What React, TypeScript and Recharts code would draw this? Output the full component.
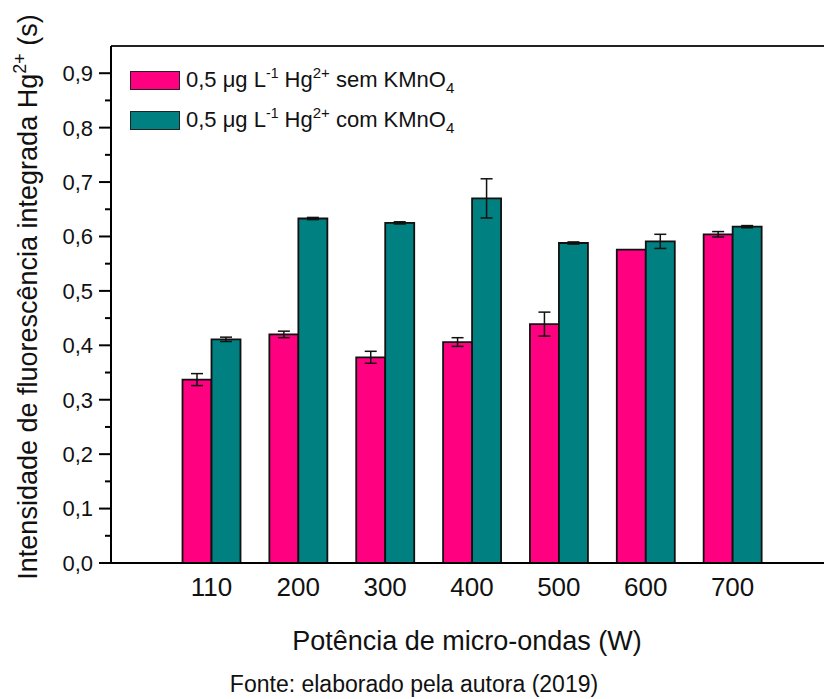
import React from 'react';
import { BarChart, Bar, XAxis, YAxis, ErrorBar, ReferenceLine } from 'recharts';

const powers = ['110', '200', '300', '400', '500', '600', '700'];
const semKMnO4 = [0.337, 0.42, 0.378, 0.406, 0.439, 0.576, 0.604];
const semErr = [0.011, 0.006, 0.011, 0.008, 0.022, 0, 0.005];
const comKMnO4 = [0.411, 0.633, 0.625, 0.67, 0.588, 0.591, 0.618];
const comErr = [0.004, 0.002, 0.002, 0.036, 0.002, 0.013, 0.002];

const yMajorTicks = [0, 0.1, 0.2, 0.3, 0.4, 0.5, 0.6, 0.7, 0.8, 0.9];
const yMinorTicks = [0.05, 0.15, 0.25, 0.35, 0.45, 0.55, 0.65, 0.75, 0.85];

const PINK = '#FF0080';
const TEAL = '#008080';
const FONT = '"Liberation Sans", Arial, sans-serif';

const data = powers.map((p, i) => ({
  power: p,
  sem: semKMnO4[i],
  semErr: semErr[i],
  com: comKMnO4[i],
  comErr: comErr[i],
}));

const allTicks = [...yMajorTicks, ...yMinorTicks].sort((a, b) => a - b);
const isMajor = (v: number) => yMajorTicks.some((t) => Math.abs(t - v) < 1e-9);

const YTick = (props: any) => {
  const { x, y, payload } = props;
  const major = isMajor(payload.value);
  return (
    <g>
      <line x1={x - (major ? 12 : 6)} x2={x} y1={y} y2={y} stroke="#000" strokeWidth={2} />
      {major && (
        <text x={x - 18} y={y} dy="0.36em" textAnchor="end" fontSize={22} fontFamily={FONT} fill="#111">
          {payload.value.toFixed(1).replace('.', ',')}
        </text>
      )}
    </g>
  );
};

const YTitle = () => (
  <text
    transform="translate(37,297) rotate(-90)"
    textAnchor="middle"
    fontSize={27}
    fontFamily={FONT}
    fill="#111"
  >
    Intensidade de fluorescência integrada Hg
    <tspan dy={-11} fontSize={18}>2+</tspan>
    <tspan dy={11}> (s)</tspan>
  </text>
);

const XTitle = () => (
  <g fontFamily={FONT} fill="#111">
    <text x={467} y={650} textAnchor="middle" fontSize={27}>
      Potência de micro-ondas (W)
    </text>
    <text x={414} y={692} textAnchor="middle" fontSize={23}>
      Fonte: elaborado pela autora (2019)
    </text>
  </g>
);

const LegendRow = ({ color, top, word }: { color: string; top: number; word: string }) => (
  <div style={{ position: 'absolute', left: 130, top, display: 'flex', alignItems: 'center', whiteSpace: 'nowrap' }}>
    <div style={{ width: 48, height: 17, background: color, border: '1.5px solid #222' }} />
    <span style={{ marginLeft: 6, fontSize: 22, fontFamily: FONT, color: '#111', lineHeight: '24px' }}>
      0,5 μg L<span style={{ fontSize: 14, verticalAlign: '9px' }}>-1</span> Hg
      <span style={{ fontSize: 15, verticalAlign: '9px' }}>2+</span> {word} KMnO
      <span style={{ fontSize: 15, verticalAlign: '-6px' }}>4</span>
    </span>
  </div>
);

export default function App() {
  return (
    <div style={{ position: 'absolute', left: 0, top: 0, width: 824, height: 699, background: '#fff' }}>
      <BarChart
        width={824}
        height={699}
        data={data}
        margin={{ top: 46, right: 0, left: 0, bottom: 0 }}
        barCategoryGap="16.7%"
        barGap={0}
      >
        <XAxis
          dataKey="power"
          height={136}
          padding={{ left: 57, right: 48 }}
          tickLine={false}
          tickSize={0}
          tickMargin={15}
          axisLine={{ stroke: '#000', strokeWidth: 2 }}
          tick={{ fontSize: 26, fontFamily: FONT, fill: '#111' }}
          label={{ content: () => <XTitle /> }}
        />
        <YAxis
          width={111}
          domain={[0, 0.95]}
          ticks={allTicks}
          interval={0}
          tickLine={false}
          tickSize={0}
          tickMargin={0}
          axisLine={{ stroke: '#000', strokeWidth: 2 }}
          tick={<YTick />}
          label={{ content: () => <YTitle /> }}
        />
        <ReferenceLine y={0.95} stroke="#222" strokeWidth={2} />
        <Bar dataKey="sem" fill={PINK} stroke="#111" strokeWidth={1.8} isAnimationActive={false}>
          <ErrorBar dataKey="semErr" width={6} stroke="#111" strokeWidth={1.5} />
        </Bar>
        <Bar dataKey="com" fill={TEAL} stroke="#111" strokeWidth={1.8} isAnimationActive={false}>
          <ErrorBar dataKey="comErr" width={6} stroke="#111" strokeWidth={1.5} />
        </Bar>
      </BarChart>
      <LegendRow color={PINK} top={61} word="sem" />
      <LegendRow color={TEAL} top={101} word="com" />
    </div>
  );
}
